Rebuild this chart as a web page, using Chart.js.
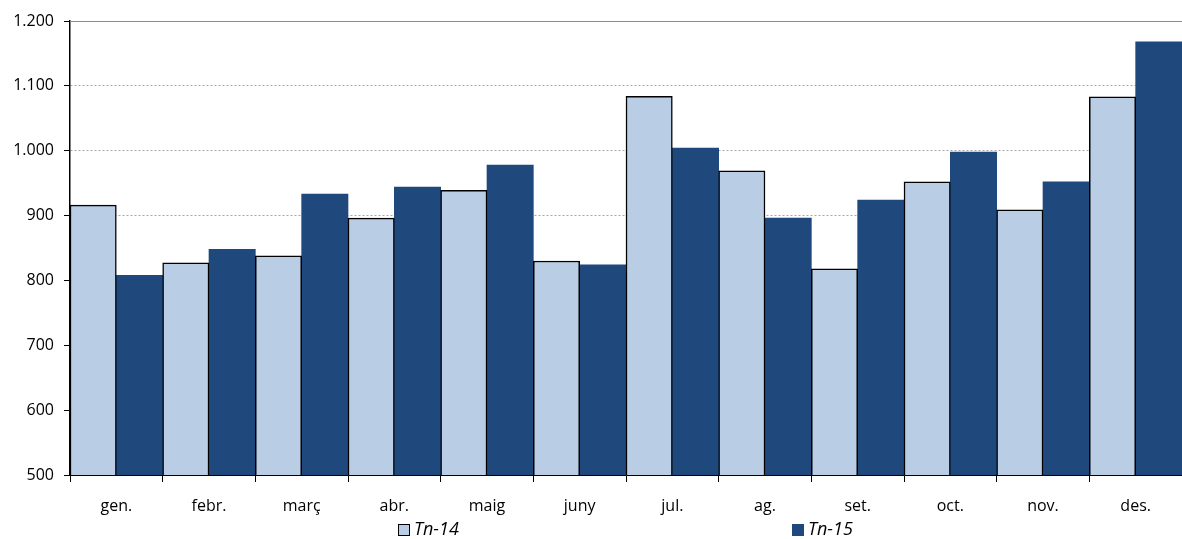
<!DOCTYPE html>
<html>
<head>
<meta charset="utf-8">
<script src="https://cdn.jsdelivr.net/npm/chart.js@4"></script>
<style>
html,body{margin:0;padding:0;background:#fff;}
#wrap{width:1182px;height:539px;position:relative;}
</style>
</head>
<body>
<div id="wrap"><canvas id="c" width="1182" height="539"></canvas></div>
<script>
const categories = ['gen.','febr.','març','abr.','maig','juny','jul.','ag.','set.','oct.','nov.','des.'];
const seriesNames = ['Tn-14','Tn-15'];
const tn14 = [916, 827, 838, 896, 939, 830, 1084, 969, 818, 952, 909, 1083];
const tn15 = [808, 848, 933, 944, 978, 824, 1004, 896, 924, 998, 952, 1168];
const yMin = 500, yMax = 1200, yStep = 100;

const colLight = '#B9CDE5';
const colDark = '#1F497D';
const fontFam = '"Open Sans", Lato, "Liberation Sans", sans-serif';

function fmt(v){
  const s = String(Math.round(v));
  return s.replace(/\B(?=(\d{3})+(?!\d))/g, '.');
}

const extras = {
  id: 'extras',
  afterDatasetsDraw(chart){
    const {ctx, chartArea} = chart;
    ctx.save();
    ctx.strokeStyle = '#8c8c8c';
    ctx.lineWidth = 1;
    ctx.beginPath();
    ctx.moveTo(chartArea.left, chartArea.top + 0.5);
    ctx.lineTo(chartArea.right, chartArea.top + 0.5);
    ctx.stroke();
    ctx.restore();
  },
  afterDraw(chart){
    const {ctx} = chart;
    ctx.save();
    const items = [
      {x: 398, color: colLight, border: true, text: seriesNames[0]},
      {x: 792, color: colDark, border: false, text: seriesNames[1]}
    ];
    const yc = 530;
    ctx.font = 'italic 18px ' + fontFam;
    ctx.textBaseline = 'middle';
    ctx.textAlign = 'left';
    items.forEach(it => {
      ctx.fillStyle = it.color;
      ctx.fillRect(it.x, yc - 6, 12, 12);
      if (it.border){
        ctx.strokeStyle = '#000';
        ctx.lineWidth = 1;
        ctx.strokeRect(it.x + 0.5, yc - 5.5, 11, 11);
      }
      ctx.fillStyle = '#000';
      ctx.fillText(it.text, it.x + 16, yc);
    });
    ctx.restore();
  }
};

new Chart(document.getElementById('c'), {
  type: 'bar',
  data: {
    labels: categories,
    datasets: [
      {label: seriesNames[0], data: tn14, backgroundColor: colLight, borderColor: '#000',
       borderWidth: {top: 1.5, left: 1.5, right: 1.5, bottom: 0}, borderSkipped: 'bottom'},
      {label: seriesNames[1], data: tn15, backgroundColor: colDark, borderWidth: 0}
    ]
  },
  options: {
    responsive: false,
    animation: false,
    devicePixelRatio: 1,
    layout: {padding: {top: 21, right: 0, bottom: 0, left: 0}},
    plugins: {legend: {display: false}, tooltip: {enabled: false}},
    datasets: {bar: {barPercentage: 1, categoryPercentage: 1}},
    scales: {
      x: {
        grid: {offset: true, drawOnChartArea: false, drawTicks: true, tickLength: 7, color: '#000'},
        border: {display: true, color: '#000', width: 1},
        ticks: {color: '#000', font: {family: fontFam, size: 16}, padding: 15, maxRotation: 0},
        afterFit(s){ s.height = 64; }
      },
      y: {
        min: yMin, max: yMax,
        grid: {color: '#a6a6a6', lineWidth: 1, tickColor: '#000', tickLength: 6, drawTicks: true},
        border: {display: true, color: '#000', width: 1.5, dash: [2, 2]},
        ticks: {stepSize: yStep, color: '#000', font: {family: fontFam, size: 16}, padding: 10,
                callback: v => fmt(v)},
        afterFit(s){ s.width = 70; }
      }
    }
  },
  plugins: [extras]
});
</script>
</body>
</html>
